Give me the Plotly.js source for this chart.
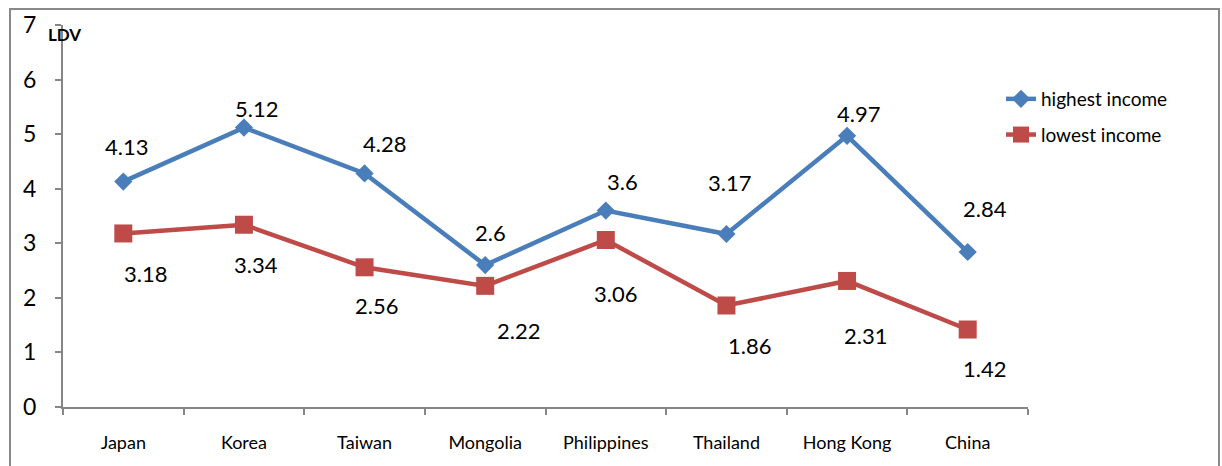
<!DOCTYPE html>
<html><head><meta charset="utf-8">
<script src="https://cdn.plot.ly/plotly-3.0.1.min.js"></script>
<style>html,body{margin:0;padding:0;background:#fff;}#chart{width:1222px;height:466px;}</style>
</head><body><div id="chart"></div>
<script>
const categories = ["Japan","Korea","Taiwan","Mongolia","Philippines","Thailand","Hong Kong","China"];
const highestIncome = [4.13,5.12,4.28,2.6,3.6,3.17,4.97,2.84];
const lowestIncome = [3.18,3.34,2.56,2.22,3.06,1.86,2.31,1.42];
const yTicks = [0,1,2,3,4,5,6,7];

// label pixel offsets [dx, dy] (styling)
const hiShift = [[3,-35],[13,-19],[20,-30],[5,-33],[17,-29],[3,-52],[11,-22],[17,-44]];
const loShift = [[22,40],[12,40],[12,38],[33,45],[10,53],[23,40],[18,55],[17,39]];

const FONT = "Lato, 'Open Sans', sans-serif";
const blue = "#4A7EBB", red = "#BE4B48", axisCol = "#868686";

const traces = [
  {x: categories, y: highestIncome, name: "highest income", type: "scatter", mode: "lines+markers", legendgroup: "a",
   line: {color: blue, width: 4.5}, marker: {symbol: "diamond", size: 14, color: blue}},
  {x: categories, y: lowestIncome, name: "lowest income", type: "scatter", mode: "lines+markers", legendgroup: "b",
   line: {color: red, width: 4.5}, marker: {symbol: "square", size: 18, color: red}}
];

const annotations = [];
categories.forEach((c, i) => {
  annotations.push({x: c, y: highestIncome[i], xref: "x", yref: "y", text: String(highestIncome[i]),
    showarrow: false, xanchor: "center", yanchor: "middle", xshift: hiShift[i][0], yshift: -hiShift[i][1],
    font: {family: FONT, size: 22, color: "#000"}});
  annotations.push({x: c, y: lowestIncome[i], xref: "x", yref: "y", text: String(lowestIncome[i]),
    showarrow: false, xanchor: "center", yanchor: "middle", xshift: loShift[i][0], yshift: -loShift[i][1],
    font: {family: FONT, size: 22, color: "#000"}});
});
annotations.push({xref: "paper", yref: "paper", x: 1/965, y: (407-35)/382, xanchor: "center", yanchor: "middle",
  text: "<b>LDV</b>", showarrow: false, font: {family: FONT, size: 17, color: "#000"}});

const layout = {
  width: 1222, height: 466,
  margin: {l: 63, r: 194, t: 25, b: 59},
  paper_bgcolor: "#fff", plot_bgcolor: "#fff",
  font: {family: FONT, color: "#000"},
  showlegend: true,
  legend: {x: (1001-63)/965, y: (407-80)/382, xanchor: "left", yanchor: "top", font: {family: FONT, size: 19, color: "#000"},
    bgcolor: "rgba(0,0,0,0)", tracegroupgap: 8, traceorder: "grouped"},
  xaxis: {type: "category", range: [-0.5, 7.5], showgrid: false, zeroline: false, showline: true,
    linecolor: axisCol, linewidth: 2, ticks: "outside", tickson: "boundaries", ticklen: 6,
    tickcolor: axisCol, tickwidth: 2, ticklabelstandoff: 18, tickfont: {family: FONT, size: 18, color: "#000"}, fixedrange: true},
  yaxis: {range: [0, 7], tickvals: yTicks, showgrid: false, zeroline: false, showline: true,
    linecolor: axisCol, linewidth: 2, ticks: "outside", ticklen: 6, tickcolor: axisCol, tickwidth: 2,
    ticklabelstandoff: 14, tickfont: {family: FONT, size: 23, color: "#000"}, fixedrange: true},
  annotations: annotations,
  shapes: [{type: "rect", xref: "paper", yref: "paper", x0: -53/965, x1: (1219-63)/965,
    y0: -80/382, y1: (407-9)/382, line: {color: "#898989", width: 2}, layer: "below"}]
};

Plotly.newPlot("chart", traces, layout, {displayModeBar: false, staticPlot: true});
</script></body></html>
